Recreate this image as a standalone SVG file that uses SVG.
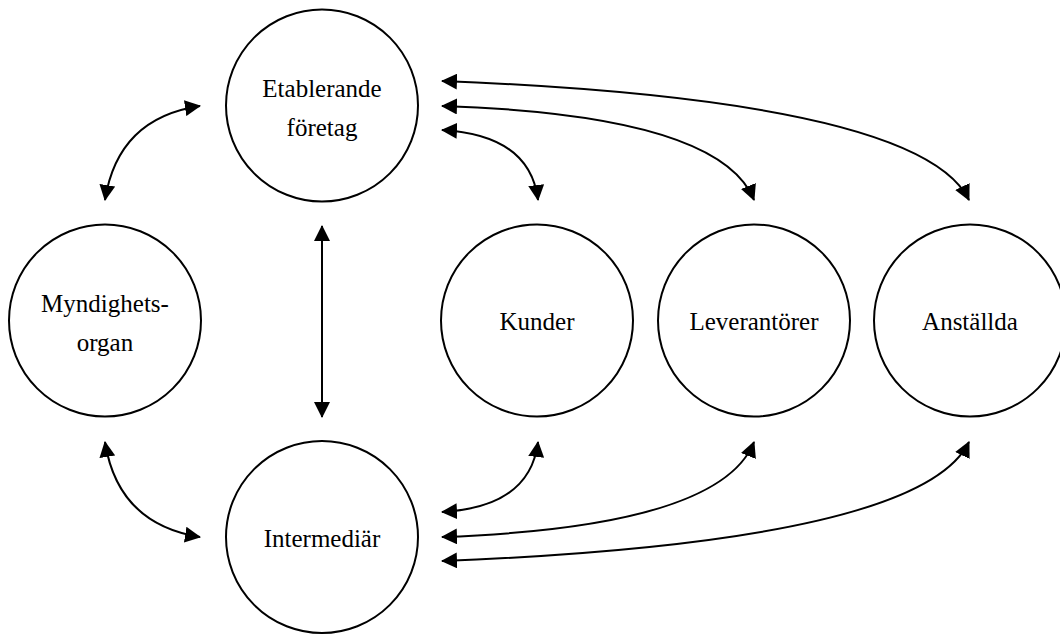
<svg xmlns="http://www.w3.org/2000/svg" width="1060" height="635" viewBox="0 0 1060 635">
  <style>
    .node { fill: #ffffff; stroke: #000000; stroke-width: 2; }
    .lbl { font-family: "Liberation Serif", "Times New Roman", serif; font-size: 25px; fill: #000000; text-anchor: middle; }
    .edge { fill: none; stroke: #000000; stroke-width: 2; marker-start: url(#ah); marker-end: url(#ah); }
  </style>
  <defs>
    <marker id="ah" viewBox="0 0 16 16" refX="15" refY="8" markerWidth="16" markerHeight="16" markerUnits="userSpaceOnUse" orient="auto-start-reverse">
      <path d="M0,0 L16,8 L0,16 Z" fill="#000000"/>
    </marker>
  </defs>
  <rect x="0" y="0" width="1060" height="635" fill="#ffffff"/>

  <g id="connectors">
    <path class="edge" d="M105,200 Q118,118 200,106"/>
    <path class="edge" d="M105,442 Q118,524 200,537"/>
    <path class="edge" d="M322,226 L322,417"/>
    <path class="edge" d="M442,130 Q530,135 538,200"/>
    <path class="edge" d="M442,106 Q720,115 754,200"/>
    <path class="edge" d="M442,81 Q920,100 969,200"/>
    <path class="edge" d="M442,512 Q530,507 538,442"/>
    <path class="edge" d="M442,537 Q720,527 754,442"/>
    <path class="edge" d="M442,561 Q920,542 969,442"/>
  </g>

  <g id="etablerande">
    <circle class="node" cx="322" cy="105.5" r="96"/>
    <text class="lbl" x="322" y="96.5">Etablerande</text>
    <text class="lbl" x="322" y="136">företag</text>
  </g>
  <g id="myndighetsorgan">
    <circle class="node" cx="105" cy="320.5" r="96"/>
    <text class="lbl" x="105" y="311.5">Myndighets-</text>
    <text class="lbl" x="105" y="351">organ</text>
  </g>
  <g id="intermediar">
    <circle class="node" cx="322" cy="537" r="96"/>
    <text class="lbl" x="322" y="546.5">Intermediär</text>
  </g>
  <g id="kunder">
    <circle class="node" cx="537" cy="320.5" r="96"/>
    <text class="lbl" x="537" y="330">Kunder</text>
  </g>
  <g id="leverantorer">
    <circle class="node" cx="754" cy="320.5" r="96"/>
    <text class="lbl" x="754" y="330">Leverantörer</text>
  </g>
  <g id="anstallda">
    <circle class="node" cx="970" cy="320.5" r="96"/>
    <text class="lbl" x="970" y="330">Anställda</text>
  </g>
</svg>
